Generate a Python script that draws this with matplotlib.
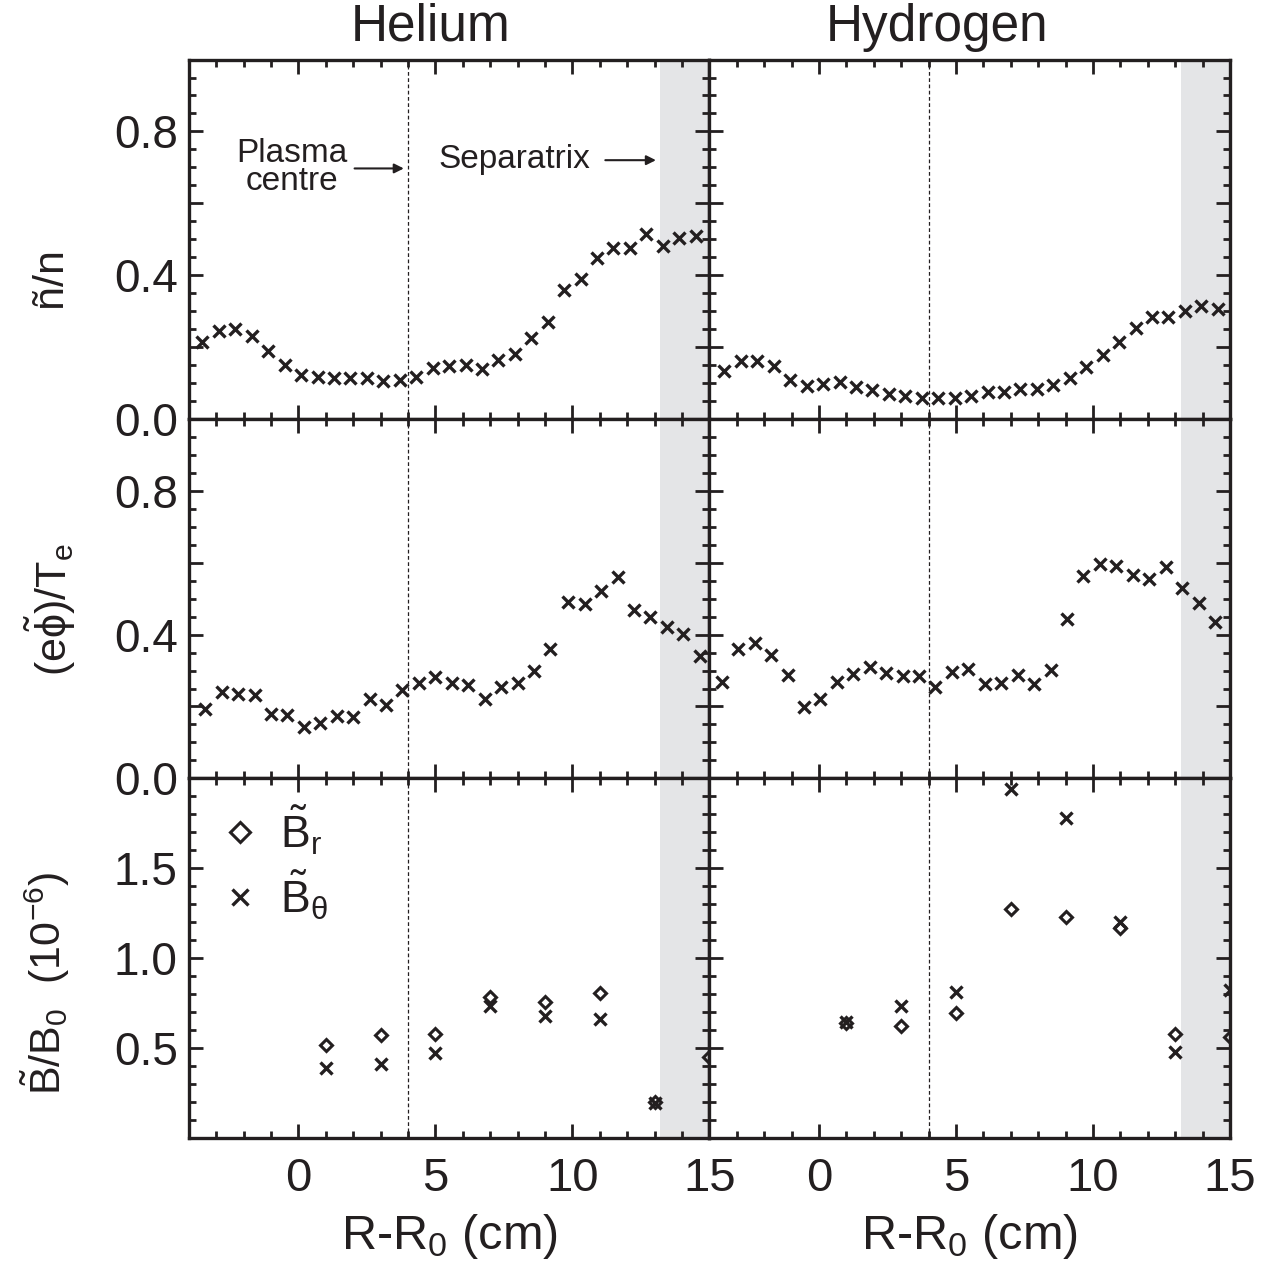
import matplotlib
matplotlib.use('Agg')
import matplotlib.pyplot as plt
from matplotlib.ticker import MultipleLocator, FuncFormatter
import numpy as np

plt.rcParams['font.family'] = ['Liberation Sans', 'DejaVu Sans']
plt.rcParams['mathtext.fontset'] = 'custom'
plt.rcParams['mathtext.rm'] = 'Liberation Sans'
plt.rcParams['mathtext.it'] = 'Liberation Sans'
plt.rcParams['mathtext.default'] = 'rm'

ink = '#231f20'
shade = '#e4e5e7'

# density fluctuation, helium / hydrogen
x_he_n = [-3.5, -2.9, -2.3, -1.7, -1.1, -0.5, 0.1, 0.7, 1.3, 1.9, 2.5, 3.1, 3.7, 4.3, 4.9, 5.5,
          6.1, 6.7, 7.3, 7.9, 8.5, 9.1, 9.7, 10.3, 10.9, 11.5, 12.1, 12.7, 13.3, 13.9, 14.5]
he_n = [0.213, 0.246, 0.25, 0.232, 0.19, 0.149, 0.123, 0.116, 0.114, 0.113, 0.114, 0.105, 0.109,
        0.116, 0.142, 0.147, 0.149, 0.14, 0.163, 0.181, 0.225, 0.271, 0.359, 0.389, 0.447, 0.477,
        0.477, 0.515, 0.482, 0.503, 0.51]
x_h_n = [-3.45, -2.85, -2.25, -1.65, -1.05, -0.45, 0.15, 0.75, 1.35, 1.95, 2.55, 3.15, 3.75, 4.35,
         4.95, 5.55, 6.15, 6.75, 7.35, 7.95, 8.55, 9.15, 9.75, 10.35, 10.95, 11.55, 12.15, 12.75,
         13.35, 13.95, 14.55]
h_n = [0.134, 0.16, 0.16, 0.146, 0.109, 0.093, 0.097, 0.104, 0.09, 0.081, 0.069, 0.063, 0.057,
       0.059, 0.059, 0.065, 0.076, 0.076, 0.083, 0.082, 0.094, 0.114, 0.144, 0.178, 0.213, 0.252,
       0.284, 0.285, 0.299, 0.315, 0.307]

# potential fluctuation
x_he_phi = [-3.4, -2.8, -2.2, -1.6, -1.0, -0.4, 0.2, 0.8, 1.4, 2.0, 2.6, 3.2, 3.8, 4.4, 5.0, 5.6,
            6.2, 6.8, 7.4, 8.0, 8.6, 9.2, 9.85, 10.45, 11.05, 11.65, 12.25, 12.85, 13.45, 14.05, 14.65]
he_phi = [0.192, 0.24, 0.236, 0.232, 0.178, 0.175, 0.144, 0.155, 0.174, 0.171, 0.22, 0.205, 0.246,
          0.264, 0.283, 0.264, 0.26, 0.222, 0.254, 0.265, 0.299, 0.359, 0.492, 0.485, 0.52, 0.559,
          0.469, 0.448, 0.422, 0.401, 0.341]
x_h_phi = [-3.55, -2.95, -2.35, -1.75, -1.15, -0.55, 0.05, 0.65, 1.25, 1.85, 2.45, 3.05, 3.65, 4.25,
           4.85, 5.45, 6.05, 6.65, 7.25, 7.85, 8.45, 9.05, 9.65, 10.25, 10.85, 11.45, 12.05, 12.65,
           13.25, 13.85, 14.45]
h_phi = [0.268, 0.361, 0.376, 0.343, 0.288, 0.199, 0.22, 0.269, 0.29, 0.311, 0.292, 0.285, 0.285,
         0.253, 0.297, 0.304, 0.262, 0.264, 0.288, 0.262, 0.302, 0.443, 0.562, 0.596, 0.59, 0.566,
         0.554, 0.589, 0.529, 0.489, 0.436]

# magnetic fluctuation (1e-6)
x_b = [1, 3, 5, 7, 9, 11, 13, 15]
he_br = [0.517, 0.574, 0.578, 0.781, 0.757, 0.804, 0.198, 0.448]
he_bt = [0.387, 0.411, 0.47, 0.735, 0.676, 0.661, 0.193, np.nan]
h_br = [0.639, 0.62, 0.693, 1.272, 1.23, 1.17, 0.578, 0.559]
h_bt = [0.643, 0.735, 0.813, 1.939, 1.781, 1.2, 0.48, 0.824]

centre_x = 4.0
sep_x = 13.2

fig = plt.figure(figsize=(12.84, 12.67), dpi=100)
gs = fig.add_gridspec(3, 2, left=0.147, right=0.958, bottom=0.102, top=0.953,
                      hspace=0, wspace=0)
axes = [[fig.add_subplot(gs[r, c]) for c in range(2)] for r in range(3)]


def lab_frac(v, pos):
    if abs(v / 0.4 - round(v / 0.4)) < 1e-6 and v < 0.95:
        return f'{v:.1f}'
    return ''


def lab_b(v, pos):
    if 0.4 < v < 1.6:
        return f'{v:.1f}'
    return ''


xkw = dict(marker='x', ls='none', color=ink, ms=8, mew=2.4)
dkw = dict(marker='D', ls='none', mfc='none', mec=ink, ms=6.5, mew=2.2)

for r in range(3):
    for c in range(2):
        ax = axes[r][c]
        ax.axvspan(sep_x, 15, color=shade, lw=0, zorder=0)
        ax.axvline(centre_x, color=ink, lw=0.9, ls=(0, (3, 2)), zorder=1)
        ax.set_xlim(-4, 15)
        ax.xaxis.set_major_locator(MultipleLocator(5))
        ax.xaxis.set_minor_locator(MultipleLocator(1))
        if r < 2:
            ax.set_ylim(0, 1)
            ax.yaxis.set_major_locator(MultipleLocator(0.2))
            ax.yaxis.set_minor_locator(MultipleLocator(0.05))
            ax.yaxis.set_major_formatter(FuncFormatter(lab_frac))
        else:
            ax.set_ylim(0, 2)
            ax.yaxis.set_major_locator(MultipleLocator(0.5))
            ax.yaxis.set_minor_locator(MultipleLocator(0.1))
            ax.yaxis.set_major_formatter(FuncFormatter(lab_b))
        ax.tick_params(which='both', direction='in', top=True, right=True,
                       width=2, color=ink, labelcolor=ink)
        ax.tick_params(which='major', length=10)
        ax.tick_params(which='minor', length=5)
        ax.tick_params(axis='y', labelsize=33, pad=8)
        ax.tick_params(axis='x', labelsize=34, pad=14)
        for s in ax.spines.values():
            s.set_linewidth(2.4)
            s.set_color(ink)
        if r < 2:
            ax.tick_params(labelbottom=False)
        if c == 1:
            ax.tick_params(labelleft=False)
        if r == 2:
            ax.set_xlabel('R-R$_0$ (cm)', fontsize=35, color=ink, labelpad=8)

axes[0][0].plot(x_he_n, he_n, **xkw)
axes[0][1].plot(x_h_n, h_n, **xkw)
axes[1][0].plot(x_he_phi, he_phi, **xkw)
axes[1][1].plot(x_h_phi, h_phi, **xkw)

axes[2][0].plot(x_b, he_br, label=r'$\tilde{B}_r$', **dkw)
axes[2][0].plot(x_b, he_bt, label=r'$\tilde{B}_\theta$', **xkw)
axes[2][1].plot(x_b, h_br, **dkw)
axes[2][1].plot(x_b, h_bt, **xkw)

axes[2][0].legend(loc='upper left', bbox_to_anchor=(0.03, 0.98), frameon=False, fontsize=32,
                  handlelength=0.8, handletextpad=0.5, labelspacing=0.25, markerscale=1.5,
                  borderaxespad=0, labelcolor=ink)

ax = axes[0][0]
ax.text(-0.25, 0.70, 'Plasma\ncentre', ha='center', va='center', fontsize=24,
        color=ink, linespacing=0.85)
ax.annotate('', xy=(3.95, 0.697), xytext=(1.95, 0.697),
            arrowprops=dict(arrowstyle='-|>', lw=1.5, color=ink, mutation_scale=14))
ax.text(7.9, 0.722, 'Separatrix', ha='center', va='center', fontsize=24, color=ink)
ax.annotate('', xy=(13.15, 0.72), xytext=(11.1, 0.72),
            arrowprops=dict(arrowstyle='-|>', lw=1.5, color=ink, mutation_scale=14))

fig.text(431 / 1284, 1 - 27 / 1267, 'Helium', ha='center', va='center', fontsize=37, color=ink)
fig.text(937 / 1284, 1 - 27 / 1267, 'Hydrogen', ha='center', va='center', fontsize=37, color=ink)

fig.text(50 / 1284, 1 - 277 / 1267, 'ñ/n', rotation=90, ha='center', va='center',
         fontsize=31, color=ink)
fig.text(50 / 1284, 1 - 610 / 1267, r'$(e\tilde{\phi})/T_e$', rotation=90, ha='center',
         va='center', fontsize=31, color=ink)
fig.text(45 / 1284, 1 - 983 / 1267, r'$\tilde{B}/B_0$  $(10^{-6})$', rotation=90, ha='center',
         va='center', fontsize=31, color=ink)

fig.savefig('out.png', dpi=100)
